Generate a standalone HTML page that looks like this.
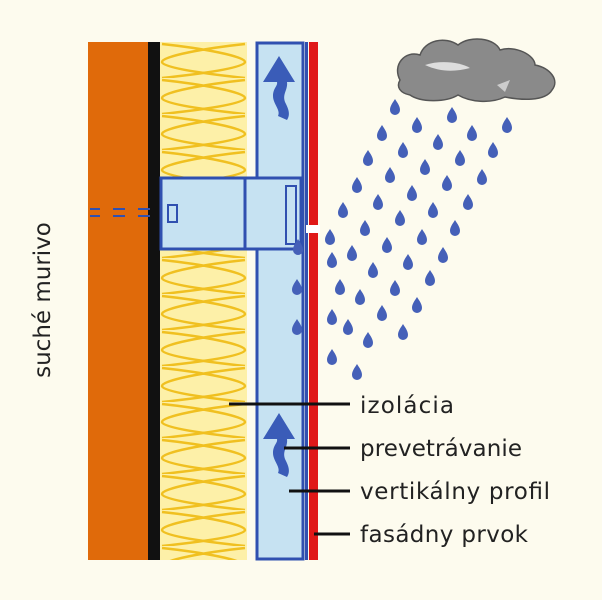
<!DOCTYPE html>
<html><head><meta charset="utf-8"><style>
body{margin:0;background:#fdfbee;}
svg{display:block}
text{font-family:"DejaVu Sans","Liberation Sans",sans-serif;fill:#222}
</style></head><body>
<svg width="602" height="600" viewBox="0 0 602 600" xmlns="http://www.w3.org/2000/svg">
<rect width="602" height="600" fill="#fdfbee"/>
<defs>
<pattern id="ins" x="160" y="42" width="87" height="36" patternUnits="userSpaceOnUse">
<rect width="87" height="36" fill="#fdf0a8"/>
<path d="M2,2 C40,6 85,14 85,20 C85,26 40,32 2,36 M85,2 C47,6 2,14 2,20 C2,26 47,32 85,36" fill="none" stroke="#f0c020" stroke-width="2.5"/>
</pattern>
<path id="drop" d="M0,-8 C2.5,-4 5,-1 5,3 A5,5 0 0 1 -5,3 C-5,-1 -2.5,-4 0,-8Z" fill="#4560b8"/>
</defs>
<rect x="88" y="42" width="60" height="518" fill="#e06a0a"/>
<rect x="148" y="42" width="12" height="518" fill="#111"/>
<rect x="160" y="42" width="87" height="518" fill="url(#ins)"/>
<rect x="257" y="43" width="46" height="516" fill="#c6e2f2" stroke="#3050b0" stroke-width="3"/>
<rect x="305" y="42" width="3" height="518" fill="#3050b0"/>
<rect x="309" y="42" width="9" height="183" fill="#e01818"/>
<rect x="309" y="233" width="9" height="327" fill="#e01818"/>
<rect x="306" y="225" width="14" height="8" fill="#fff"/>
<rect x="161" y="178" width="140" height="71" fill="#c6e2f2" stroke="#3050b0" stroke-width="3"/>
<line x1="245" y1="178" x2="245" y2="249" stroke="#3050b0" stroke-width="3"/>
<rect x="286" y="186" width="10" height="58" fill="none" stroke="#3050b0" stroke-width="2"/>
<rect x="168" y="205" width="9" height="17" fill="none" stroke="#3050b0" stroke-width="2"/>
<g stroke="#3050b0" stroke-width="2">
<line x1="90" y1="209" x2="100" y2="209"/><line x1="90" y1="216" x2="100" y2="216"/>
<line x1="113" y1="209" x2="125" y2="209"/><line x1="113" y1="216" x2="125" y2="216"/>
<line x1="138" y1="209" x2="150" y2="209"/><line x1="138" y1="216" x2="150" y2="216"/>
</g>
<g fill="#3a5cb8">
<path d="M279,56 L295,82 L287,82 C288,90 282,94 285,102 C288,108 291,114 287,120 L278,116 C281,110 273,104 273,96 C273,88 278,86 277,82 L263,82Z"/>
<path d="M279,413 L295,439 L287,439 C288,447 282,451 285,459 C288,465 291,471 287,477 L278,473 C281,467 273,461 273,453 C273,445 278,443 277,439 L263,439Z"/>
</g>
<path d="M400,80 C392,65 405,50 420,55 C425,40 445,36 458,45 C470,35 495,38 500,50 C515,45 535,55 535,65 C550,68 560,80 552,90 C545,102 520,100 505,97 C490,104 470,102 458,95 C445,103 420,102 410,95 C400,93 396,87 400,80Z" fill="#8a8a8a" stroke="#555" stroke-width="1.5"/>
<path d="M425,65 C440,60 460,62 470,68 C455,72 440,72 425,65Z" fill="#ddd"/>
<path d="M497,85 L510,80 L505,92Z" fill="#ccc"/>
<g>
<use href="#drop" x="395" y="107"/><use href="#drop" x="417" y="125"/><use href="#drop" x="452" y="115"/><use href="#drop" x="507" y="125"/>
<use href="#drop" x="382" y="133"/><use href="#drop" x="438" y="142"/><use href="#drop" x="472" y="133"/><use href="#drop" x="403" y="150"/>
<use href="#drop" x="493" y="150"/><use href="#drop" x="368" y="158"/><use href="#drop" x="425" y="167"/><use href="#drop" x="460" y="158"/>
<use href="#drop" x="390" y="175"/><use href="#drop" x="482" y="177"/><use href="#drop" x="357" y="185"/><use href="#drop" x="447" y="183"/>
<use href="#drop" x="412" y="193"/><use href="#drop" x="468" y="202"/><use href="#drop" x="378" y="202"/><use href="#drop" x="343" y="210"/>
<use href="#drop" x="433" y="210"/><use href="#drop" x="400" y="218"/><use href="#drop" x="455" y="228"/><use href="#drop" x="365" y="228"/>
<use href="#drop" x="330" y="237"/><use href="#drop" x="422" y="237"/><use href="#drop" x="387" y="245"/><use href="#drop" x="443" y="255"/>
<use href="#drop" x="332" y="260"/><use href="#drop" x="352" y="253"/><use href="#drop" x="408" y="262"/><use href="#drop" x="373" y="270"/>
<use href="#drop" x="430" y="278"/><use href="#drop" x="340" y="287"/><use href="#drop" x="395" y="288"/><use href="#drop" x="360" y="297"/>
<use href="#drop" x="417" y="305"/><use href="#drop" x="382" y="313"/><use href="#drop" x="332" y="317"/><use href="#drop" x="348" y="327"/>
<use href="#drop" x="403" y="332"/><use href="#drop" x="368" y="340"/><use href="#drop" x="332" y="357"/><use href="#drop" x="357" y="372"/>
<use href="#drop" x="298" y="247"/><use href="#drop" x="297" y="287"/><use href="#drop" x="297" y="327"/>
</g>
<g stroke="#111" stroke-width="3">
<line x1="229" y1="404" x2="350" y2="404"/>
<line x1="284" y1="448" x2="350" y2="448"/>
<line x1="289" y1="491" x2="350" y2="491"/>
<line x1="314" y1="534" x2="350" y2="534"/>
</g>
<g font-size="23">
<text x="360" y="413" textLength="94">izolácia</text>
<text x="360" y="456" textLength="162">prevetrávanie</text>
<text x="360" y="499" textLength="190">vertikálny profil</text>
<text x="360" y="542" textLength="168">fasádny prvok</text>
</g>
<text font-size="23" transform="translate(50,300) rotate(-90)" text-anchor="middle">suché murivo</text>
</svg>
</body></html>
